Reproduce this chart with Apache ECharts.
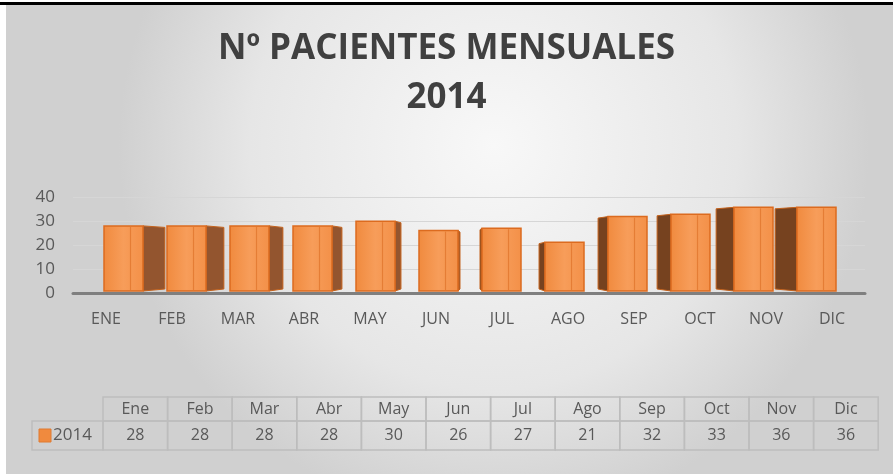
<!DOCTYPE html>
<html lang="es">
<head>
<meta charset="UTF-8">
<title>Nº Pacientes mensuales 2014</title>
<script src="https://cdn.jsdelivr.net/npm/echarts@6/dist/echarts.min.js"></script>
<style>
  html, body { margin: 0; padding: 0; background: #fff; }
  #main { width: 893px; height: 474px; }
</style>
</head>
<body>
<div id="main"></div>
<script>
// datos del gráfico
const categorias = ['ENE', 'FEB', 'MAR', 'ABR', 'MAY', 'JUN', 'JUL', 'AGO', 'SEP', 'OCT', 'NOV', 'DIC'];
const mesesTabla = ['Ene', 'Feb', 'Mar', 'Abr', 'May', 'Jun', 'Jul', 'Ago', 'Sep', 'Oct', 'Nov', 'Dic'];
const pacientes = [28, 28, 28, 28, 30, 26, 27, 21, 32, 33, 36, 36];
const serieNombre = '2014';
const ejeY = { min: 0, max: 40, interval: 10 };

const chart = echarts.init(document.getElementById('main'));
const fuente = "'Open Sans', 'Liberation Sans', sans-serif";
const gris = '#595959';

// barra con efecto 3D (cara frontal + lateral en perspectiva)
function dibujarBarra(params, api) {
  const i = api.value(0);
  const v = api.value(1);
  const top = api.coord([i, v]);
  const base = api.coord([i, 0]);
  const cx = top[0];
  const w = 39;
  const x0 = cx - w / 2, x1 = cx + w / 2;
  const d = (470 - cx) * 0.063;
  const borde = d >= 0 ? x1 : x0;
  const lado = {
    type: 'polygon',
    shape: { points: [[borde, top[1]], [borde + d, top[1] + 1.5], [borde + d, base[1] - 2], [borde, base[1]]] },
    style: { fill: d >= 0 ? '#93552f' : '#76421f', stroke: '#c4621c', lineWidth: 1 }
  };
  const frente = {
    type: 'rect',
    shape: { x: x0, y: top[1], width: w, height: base[1] - top[1] },
    style: {
      fill: new echarts.graphic.LinearGradient(0, 0, 1, 0, [
        { offset: 0, color: '#f08a3e' },
        { offset: 0.5, color: '#f79d5a' },
        { offset: 1, color: '#f39048' }
      ]),
      stroke: '#dc6b1f', lineWidth: 1.5
    }
  };
  const xl = x0 + w * 0.68;
  const linea = {
    type: 'line',
    shape: { x1: xl, y1: top[1] + 1, x2: xl, y2: base[1] - 1 },
    style: { stroke: '#e57d35', lineWidth: 1.2 }
  };
  return { type: 'group', children: [lado, frente, linea] };
}

// tabla de datos bajo el gráfico
function tabla() {
  const izq = 103, colW = 64.6, yCab = 397, hCab = 24, hVal = 29;
  const linea = '#bdbdbd';
  const els = [];
  els.push({
    type: 'rect', shape: { x: 32, y: yCab + hCab, width: izq - 32, height: hVal },
    style: { fill: 'none', stroke: linea, lineWidth: 1.5 }
  });
  els.push({
    type: 'rect', shape: { x: 39, y: yCab + hCab + 8, width: 12, height: 13 },
    style: { fill: '#f08a3e', stroke: '#e07a30', lineWidth: 1 }
  });
  els.push({
    type: 'text',
    style: { text: serieNombre, x: 53, y: yCab + hCab + hVal / 2, align: 'left', verticalAlign: 'middle',
      fill: gris, fontSize: 17, fontFamily: fuente }
  });
  mesesTabla.forEach((m, i) => {
    const x = izq + i * colW;
    els.push({
      type: 'rect', shape: { x: x, y: yCab, width: colW, height: hCab },
      style: { fill: 'none', stroke: linea, lineWidth: 1.5 }
    });
    els.push({
      type: 'rect', shape: { x: x, y: yCab + hCab, width: colW, height: hVal },
      style: { fill: 'none', stroke: linea, lineWidth: 1.5 }
    });
    els.push({
      type: 'text',
      style: { text: m, x: x + colW / 2, y: yCab + hCab / 2, align: 'center', verticalAlign: 'middle',
        fill: gris, fontSize: 16, fontFamily: fuente }
    });
    els.push({
      type: 'text',
      style: { text: String(pacientes[i]), x: x + colW / 2, y: yCab + hCab + hVal / 2, align: 'center',
        verticalAlign: 'middle', fill: gris, fontSize: 16, fontFamily: fuente }
    });
  });
  return els;
}

const option = {
  backgroundColor: '#ffffff',
  title: {
    text: 'Nº PACIENTES MENSUALES\n2014',
    left: 'center',
    top: 25,
    padding: [0, 0, 0, 16],
    textStyle: { fontSize: 35, fontWeight: 'bold', fontFamily: fuente, color: '#404040', lineHeight: 49 }
  },
  graphic: [
    {
      type: 'rect', z: -10, silent: true,
      shape: { x: 6, y: 5, width: 887, height: 469 },
      style: {
        fill: new echarts.graphic.RadialGradient(0.55, 0.3, 0.8, [
          { offset: 0, color: '#f8f8f8' },
          { offset: 0.65, color: '#e6e6e6' },
          { offset: 1, color: '#d0d0d0' }
        ])
      }
    },
    { type: 'rect', z: -9, silent: true, shape: { x: 0, y: 2, width: 893, height: 3 }, style: { fill: '#000' } },
    ...tabla()
  ],
  grid: [
    { left: 73, right: 28, top: 197, bottom: 181 },
    { left: 92, right: 45, top: 198, bottom: 183 }
  ],
  xAxis: [
    {
      gridIndex: 0, type: 'category', data: categorias,
      axisLine: { lineStyle: { color: '#7f7f7f', width: 3 } },
      axisTick: { show: false },
      axisLabel: { margin: 18, color: gris, fontSize: 16, fontFamily: fuente }
    },
    { gridIndex: 1, type: 'category', data: categorias, show: false }
  ],
  yAxis: [
    {
      gridIndex: 0, type: 'value', min: ejeY.min, max: ejeY.max, interval: ejeY.interval,
      axisLine: { show: false }, axisTick: { show: false },
      axisLabel: { margin: 18, color: gris, fontSize: 17, fontFamily: fuente },
      splitLine: { lineStyle: { color: '#d6d6d6', width: 1 } }
    },
    { gridIndex: 1, type: 'value', min: ejeY.min, max: ejeY.max, show: false }
  ],
  series: [
    {
      name: serieNombre,
      type: 'custom',
      xAxisIndex: 1, yAxisIndex: 1,
      renderItem: dibujarBarra,
      encode: { x: 0, y: 1 },
      data: pacientes.map((v, i) => [i, v])
    }
  ]
};

chart.setOption(option);
</script>
</body>
</html>
